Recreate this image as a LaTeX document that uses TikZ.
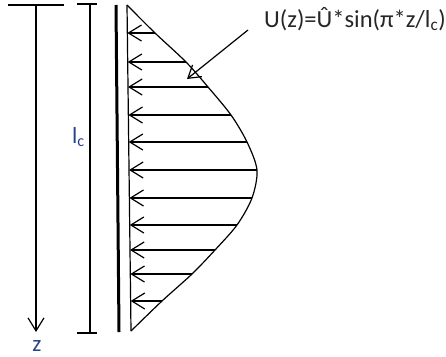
\documentclass[tikz,border=0pt]{standalone}
\usepackage{fontspec}
\setmainfont{Carlito}
\usetikzlibrary{arrows.meta}
\definecolor{lblblue}{RGB}{40,66,140}
\tikzset{
  thin line/.style={line width=1.2pt},
  barb/.style={thin line, -{Straight Barb[length=13pt,width=16pt]}},
  ptr/.style={thin line, -{Straight Barb[length=12pt,width=15pt]}},
  lbl/.style={font=\fontsize{23}{27}\selectfont, text=lblblue, inner sep=0pt}
}
\begin{document}
\begin{tikzpicture}[x=1pt,y=-1pt]
\useasboundingbox (0,0) rectangle (446,356);
% z axis
\coordinate (tl) at (8,5);
\coordinate (tr) at (64,5);
\coordinate (ztop) at (36,5);
\coordinate (zend) at (36,332);
\draw[thin line] (tl) -- (tr);
\draw[barb] (ztop) -- (zend);
\node[lbl, anchor=base] (z) at (37,351) {z};
% length l_c
\coordinate (lctop) at (90,4);
\coordinate (lcbot) at (90,333);
\draw[thin line] (lctop) -- (lcbot);
\draw[thin line] (77,4) -- (97,4);
\draw[thin line] (77,333) -- (97,333);
\node[lbl, anchor=base west] (lc) at (72,143) {l\textsubscript{c}};
% wall and profile
\draw[line width=3pt] (116,5) -- (119,332);
\coordinate (b1) at (127,5);
\coordinate (b2) at (131,331);
\draw[thin line] (b1) -- (b2);
\draw[thin line] plot[smooth] coordinates {(127,5) (155,33) (186,62) (208,87) (231,115)
  (247,142) (257,170) (252,198) (237,225) (215,250) (192,274) (162,301) (131,331)};
\foreach \y/\x in {33/155, 62/186, 87/208, 115/231, 142/247, 170/257,
                   198/252, 225/237, 250/215, 274/192, 301/162}
  \draw[barb] (\x,\y) -- ({127+0.0123*(\y-5)},\y);
% formula
\node[font=\fontsize{24.5}{28}\selectfont, text=black!85, anchor=base west, inner sep=0pt]
  (ueq) at (264,27) {U(z)=Û*sin(π*z/l\textsubscript{c})};
\coordinate (ustart) at (248,30);
\coordinate (utip) at (187,79);
\draw[ptr] (ustart) -- (utip);
\end{tikzpicture}
\end{document}
